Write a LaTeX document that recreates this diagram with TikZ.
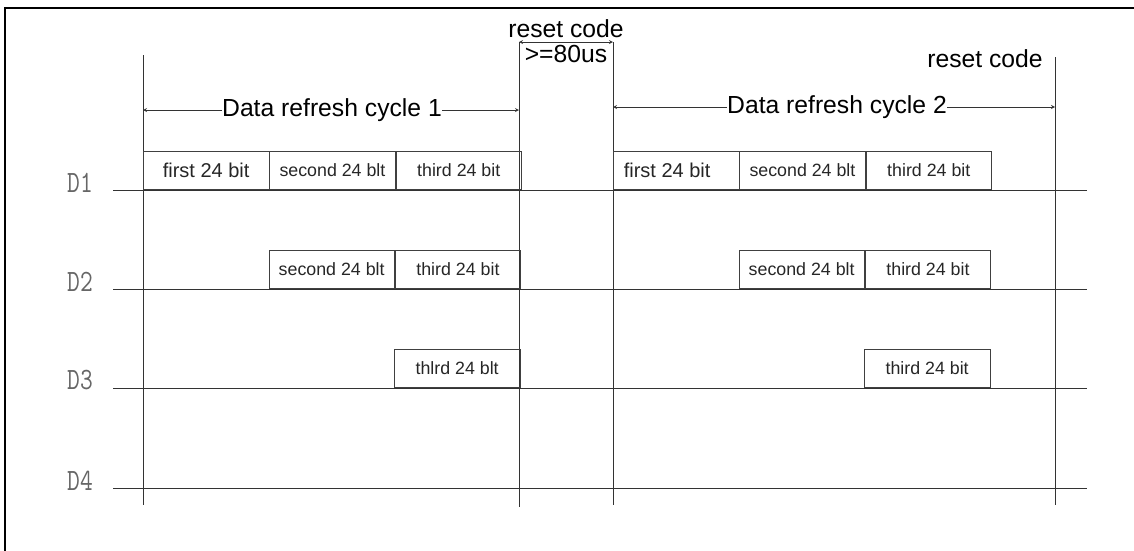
\documentclass[tikz,border=0pt]{standalone}
\usepackage{fontspec}
\setmainfont{Liberation Sans}
\usetikzlibrary{arrows, positioning}
\tikzset{>=stealth}
\newcommand{\signame}[1]{\scalebox{0.8}[1]{#1}}
\tikzset{
  bitbox/.style={rectangle, draw=black!75, line width=0.8pt, minimum width=125.5pt,
    minimum height=38.5pt, inner sep=0pt, anchor=south west, text=black!85,
    font=\fontsize{17.8}{18}\selectfont},
  firstbit/.style={bitbox, font=\fontsize{20}{20}\selectfont},
  siglabel/.style={inner sep=0pt, text=black!60, font=\fontsize{31}{31}\selectfont\ttfamily},
  cyclelabel/.style={inner sep=0pt, font=\fontsize{24.7}{25}\selectfont},
  wire/.style={draw=black!80, line width=0.8pt}
}

\begin{document}
\begin{tikzpicture}[x=1pt, y=-1pt, >=stealth]
  \useasboundingbox (0,0) rectangle (1134,550);
  % frame
  \draw[line width=2.6pt] (5,552) -- (5,8) -- (1136,8);

  % ends of the vertical lines
  \coordinate (v1t) at (143,55);   \coordinate (v1b) at (143,505);
  \coordinate (v2t) at (519,42);   \coordinate (v2b) at (519,507);
  \coordinate (v3t) at (613,42);   \coordinate (v3b) at (613,505);
  \coordinate (v4t) at (1055,57);  \coordinate (v4b) at (1055,505);
  \draw[wire] (v1t) -- (v1b);
  \draw[wire] (v2t) -- (v2b);
  \draw[wire] (v3t) -- (v3b);
  \draw[wire] (v4t) -- (v4b);

  % signal lines
  \node (d1) at (80,182.5)[siglabel] {\signame{D1}};
  \node (d2) at (80,281.5)[siglabel] {\signame{D2}};
  \node (d3) at (80,380.5)[siglabel] {\signame{D3}};
  \node (d4) at (80,480.5)[siglabel] {\signame{D4}};
  \coordinate (d1s) at (113,190); \coordinate (d1e) at (1087,190);
  \coordinate (d2s) at (113,289); \coordinate (d2e) at (1087,289);
  \coordinate (d3s) at (113,388); \coordinate (d3e) at (1087,388);
  \coordinate (d4s) at (113,488); \coordinate (d4e) at (1087,488);
  \draw[wire] (d1s) -- (d1e);
  \draw[wire] (d2s) -- (d2e);
  \draw[wire] (d3s) -- (d3e);
  \draw[wire] (d4s) -- (d4e);

  % cycle 1
  \node (a11) at (143,190)[firstbit] {first 24 bit};
  \node (a12) [bitbox, right=0pt of a11.south east, anchor=south west] {second 24 blt};
  \node (a13) [bitbox, right=0pt of a12.south east, anchor=south west] {third 24 bit};
  \node (a22) at (268.5,289)[bitbox] {second 24 blt};
  \node (a23) [bitbox, right=0pt of a22.south east, anchor=south west] {third 24 bit};
  \node (a33) at (394,388)[bitbox] {thlrd 24 blt};

  % cycle 2
  \node (b11) at (613,190)[firstbit] {first 24 bit\hspace*{18pt}};
  \node (b12) [bitbox, right=0pt of b11.south east, anchor=south west] {second 24 blt};
  \node (b13) [bitbox, right=0pt of b12.south east, anchor=south west] {third 24 bit};
  \node (b22) at (738.5,289)[bitbox] {second 24 blt};
  \node (b23) [bitbox, right=0pt of b22.south east, anchor=south west] {third 24 bit};
  \node (b33) at (864,388)[bitbox] {third 24 bit};

  % cycle labels
  \node (cyc1) at (332,110)[cyclelabel] {Data refresh cycle 1};
  \node (cyc2) at (837,107)[cyclelabel] {Data refresh cycle 2};
  \draw[->, wire] (cyc1.west) -- (cyc1.west -| v1t);
  \draw[->, wire] (cyc1.east) -- (cyc1.east -| v2t);
  \draw[->, wire] (cyc2.west) -- (cyc2.west -| v3t);
  \draw[->, wire] (cyc2.east) -- (cyc2.east -| v4t);

  % reset code
  \node (rst1) at (566,29)[cyclelabel] {reset code};
  \node (dur) at (566,54)[cyclelabel] {>=80us};
  \draw[<->, wire] (v2t) -- (v3t);
  \node (rst2) at (985,59)[cyclelabel] {reset code};
\end{tikzpicture}
\end{document}
